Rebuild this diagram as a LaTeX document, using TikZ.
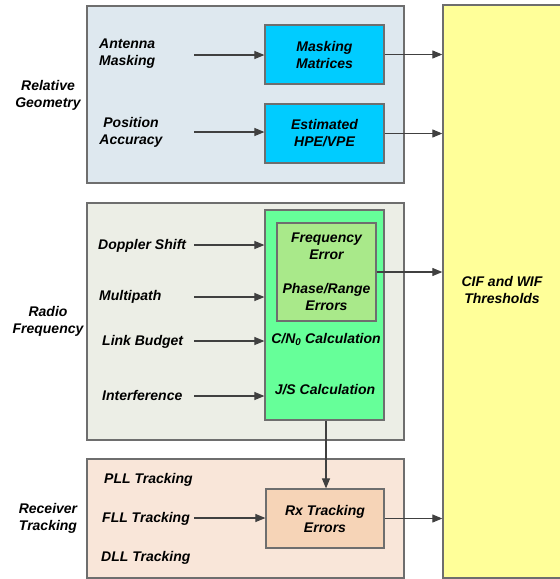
\documentclass[tikz,border=0pt]{standalone}
\usepackage{fontspec}
\setmainfont{Liberation Sans}
\usetikzlibrary{arrows.meta,calc}

\definecolor{edgegray}{HTML}{6E6E6E}
\definecolor{arrowgray}{HTML}{404040}
\definecolor{geofill}{HTML}{DEE8EF}
\definecolor{rffill}{HTML}{ECEEE6}
\definecolor{rxfill}{HTML}{F9E6D9}
\definecolor{rxbox}{HTML}{F6D4B7}
\definecolor{cyanbox}{HTML}{00CCFF}
\definecolor{greenbox}{HTML}{66FF99}
\definecolor{innerbox}{HTML}{A9E98A}
\definecolor{yellowbox}{HTML}{FFFF99}

\begin{document}
\begin{tikzpicture}[x=1pt,y=-1pt,
  every node/.style={font=\fontsize{14}{17}\selectfont\bfseries\itshape, inner sep=0pt, align=center},
  group/.style={draw=edgegray, line width=1.3pt, rectangle},
  block/.style={draw=edgegray, line width=1.2pt, rectangle},
  conn/.style={draw=arrowgray, line width=1.1pt, -{Triangle[length=10pt,width=8pt]}}
]
\useasboundingbox (0,0) rectangle (560,579);

% section frames
\node[group, fill=geofill, minimum width=317pt, minimum height=177pt] (geo) at (245.5,94.5) {};
\node[group, fill=rffill, minimum width=317pt, minimum height=237pt] (rf) at (245.5,321.5) {};
\node[group, fill=rxfill, minimum width=317pt, minimum height=119pt] (rt) at (245.5,518.5) {};

% threshold column, running off the right edge
\node[group, fill=yellowbox, minimum width=123pt, minimum height=573pt] (thr) at (504.5,291.5) {};
\node (thrtxt) at (502,290) {CIF and WIF\\Thresholds};

% section titles
\node (geotitle) at (48,95) {Relative\\Geometry};
\node (rftitle) at (48,321) {Radio\\Frequency};
\node (rttitle) at (48,518) {Receiver\\Tracking};

% relative geometry
\node[block, fill=cyanbox, minimum width=119pt, minimum height=59pt] (mask) at (324.5,54.5) {Masking\\Matrices};
\node[block, fill=cyanbox, minimum width=119pt, minimum height=59pt] (hpe) at (324.5,133.5) {Estimated\\HPE/VPE};
\node[anchor=west, align=left] (ant) at (99,53.5) {Antenna\\Masking};
\node (pos) at (131,132.5) {Position\\Accuracy};

% radio frequency
\node[block, fill=greenbox, minimum width=119pt, minimum height=210pt] (grn) at (324.5,315) {};
\node[block, fill=innerbox, minimum width=99pt, minimum height=98pt] (ferr) at (326.5,272) {};
\node (ftxt) at (326.5,246.5) {Frequency\\Error};
\node (ptxt) at (326.5,296.5) {Phase/Range\\Errors};
\node (cn) at (326,339.5) {C/N\textsubscript{0} Calculation};
\node (js) at (325,389.5) {J/S Calculation};
\node[anchor=west] (dop) at (98,245.5) {Doppler Shift};
\node[anchor=west] (mp) at (99,296.5) {Multipath};
\node[anchor=west] (lb) at (102,341.5) {Link Budget};
\node[anchor=west] (intf) at (102,395.5) {Interference};

% receiver tracking
\node[block, fill=rxbox, minimum width=118pt, minimum height=59pt] (rxe) at (325,518.5) {Rx Tracking\\Errors};
\node[anchor=west] (pll) at (104,479.5) {PLL Tracking};
\node[anchor=west] (fll) at (102,518.5) {FLL Tracking};
\node[anchor=west] (dll) at (101,557.5) {DLL Tracking};

% input arrow tails
\coordinate (a1) at (194,55);
\coordinate (a2) at (194,132);
\coordinate (a3) at (194,245);
\coordinate (a4) at (194,297);
\coordinate (a5) at (194,341);
\coordinate (a6) at (194,396);
\coordinate (a7) at (194,518);

\draw[conn] (a1) -- (a1 -| mask.west);
\draw[conn] (a2) -- (a2 -| hpe.west);
\draw[conn] (a3) -- (a3 -| grn.west);
\draw[conn] (a4) -- (a4 -| grn.west);
\draw[conn] (a5) -- (a5 -| grn.west);
\draw[conn] (a6) -- (a6 -| grn.west);
\draw[conn] (a7) -- (a7 -| rxe.west);

% outputs to thresholds
\draw[conn] (mask.east) -- (mask.east -| thr.west);
\draw[conn] (hpe.east) -- (hpe.east -| thr.west);
\draw[conn] (ferr.east) -- (ferr.east -| thr.west);
\draw[conn] (rxe.east) -- (rxe.east -| thr.west);

% RF block feeds tracking errors
\draw[conn] ($(grn.south)+(1.5,0)$) -- ($(rxe.north)+(1,0)$);
\end{tikzpicture}
\end{document}
